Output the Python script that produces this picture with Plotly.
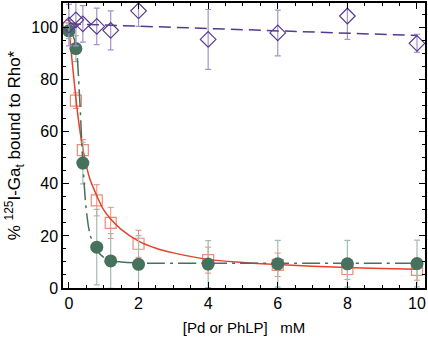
import plotly.graph_objects as go

# concentrations (mM)
conc = [0, 0.2, 0.4, 0.8, 1.2, 2, 4, 6, 8, 10]

# Pd / PhLP series
phlp_y = [99.8, 72, 53, 33.7, 25, 17, 10.7, 8.9, 7.3, 7.0]
phlp_err = [3, 3, 4, 6, 6, 5.2, 5, 4.5, 4, 4]

pd_y = [98.8, 92, 48, 15.7, 10.4, 9.1, 9.2, 9.3, 9.3, 9.4]
pd_err = [3, 5, 8, 14.5, 10.5, 11, 9, 9, 9, 9]

ctrl_y = [101, 103, 101.5, 100.5, 99, 106.5, 95.5, 98, 104.5, 94]
ctrl_err = [8, 10, 7, 7, 7.5, 6, 11.5, 8.8, 9, 3.5]

# fitted curves
phlp_fit_x = [0, 0.1, 0.2, 0.3, 0.4, 0.5, 0.6, 0.8, 1.0, 1.2, 1.5, 2, 2.5, 3, 4, 5, 6, 7, 8, 9, 10]
phlp_fit_y = [100, 86, 73, 62, 53.5, 47, 42, 35.5, 30, 26.5, 22.5, 18, 15.3, 13.5, 11, 9.8, 9, 8.4, 7.9, 7.5, 7.2]

pd_fit_x = [0, 0.1, 0.2, 0.3, 0.4, 0.5, 0.6, 0.7, 0.8, 1.0, 1.2, 1.5, 2, 4, 6, 8, 10]
pd_fit_y = [99.5, 97.5, 93, 75, 48, 30, 21, 17, 14.5, 11.8, 10.6, 10, 9.6, 9.5, 9.5, 9.5, 9.5]

ctrl_fit_x = [0, 10]
ctrl_fit_y = [101.5, 97]

RED = "#e4432a"
RED_L = "#ee8a78"
GRN = "#46715d"
GRN_L = "#a3bcb0"
PUR = "#553a8e"
PUR_L = "#a493c6"

fig = go.Figure()

fig.add_trace(go.Scatter(
    x=conc, y=phlp_y, mode="markers",
    marker=dict(symbol="square-open", size=11, color=RED_L, line=dict(width=1.2)),
    error_y=dict(type="data", array=phlp_err, color=RED_L, thickness=1, width=3),
    showlegend=False))
fig.add_trace(go.Scatter(
    x=phlp_fit_x, y=phlp_fit_y, mode="lines", line_shape="spline",
    line=dict(color=RED, width=1.5), showlegend=False))

fig.add_trace(go.Scatter(
    x=conc, y=pd_y, mode="markers",
    marker=dict(symbol="circle", size=13, color=GRN),
    error_y=dict(type="data", array=pd_err, color=GRN_L, thickness=1.2, width=3),
    showlegend=False))
fig.add_trace(go.Scatter(
    x=pd_fit_x, y=pd_fit_y, mode="lines", line_shape="spline",
    line=dict(color=GRN, width=1.5, dash="18px,5px,3px,5px"), showlegend=False))

fig.add_trace(go.Scatter(
    x=conc, y=ctrl_y, mode="markers",
    marker=dict(symbol="diamond-open", size=12, color=PUR, line=dict(width=1.2)),
    error_y=dict(type="data", array=ctrl_err, color=PUR_L, thickness=1.2, width=3),
    showlegend=False))
fig.add_trace(go.Scatter(
    x=ctrl_fit_x, y=ctrl_fit_y, mode="lines",
    line=dict(color=PUR, width=1.5, dash="12px,6px"), showlegend=False))

axis_common = dict(
    showline=True, linecolor="black", linewidth=1.5, mirror="ticks",
    ticks="inside", ticklen=6, tickwidth=1, tickcolor="black",
    showgrid=False, zeroline=False,
    tickfont=dict(family="Liberation Sans, Arial", size=16, color="black"),
)

fig.update_layout(
    width=428, height=340,
    margin=dict(l=63, r=3, t=1, b=52),
    plot_bgcolor="white", paper_bgcolor="white",
    xaxis=dict(range=[-0.17, 10.23], tickvals=[0, 2, 4, 6, 8, 10],
               minor=dict(ticks="inside", dtick=0.5, tick0=0, ticklen=3, tickcolor="black"),
               title=dict(text="[Pd or PhLP]   mM", standoff=12,
                          font=dict(family="Liberation Sans, Arial", size=15, color="black")),
               **axis_common),
    yaxis=dict(range=[0, 109.5], tickvals=[0, 20, 40, 60, 80, 100],
               minor=dict(ticks="inside", dtick=5, tick0=0, ticklen=3, tickcolor="black"),
               title=dict(text="% <sup>125</sup>I-Ga<sub>t</sub> bound to Rho*", standoff=6,
                          font=dict(family="Liberation Sans, Arial", size=17, color="black")),
               **axis_common),
)

fig.write_html("out.html")
